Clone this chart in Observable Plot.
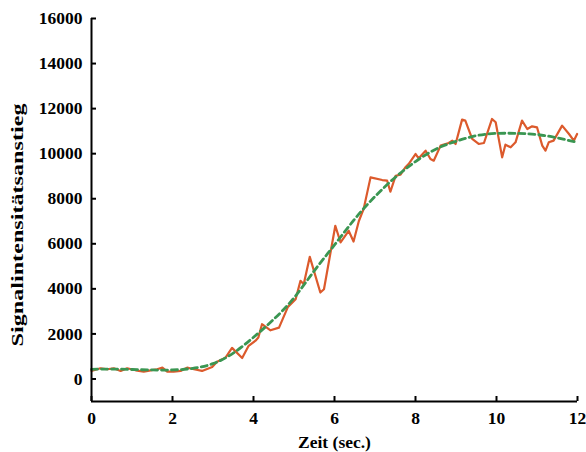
<!DOCTYPE html>
<html>
<head>
<meta charset="utf-8">
<script src="https://cdn.jsdelivr.net/npm/d3@7"></script>
<script src="https://cdn.jsdelivr.net/npm/@observablehq/plot@0.6"></script>
<style>
  html, body { margin: 0; padding: 0; background: #fff; }
</style>
</head>
<body>
<div id="chart"></div>
<script>
// Measured signal (orange line)
const measuredTime = [0.00, 0.22, 0.39, 0.55, 0.72, 0.88, 1.09, 1.29, 1.46, 1.62, 1.75, 1.87, 2.03, 2.20, 2.36, 2.53, 2.73, 2.98, 3.10, 3.23, 3.31, 3.47, 3.72, 3.88, 4.05, 4.12, 4.21, 4.42, 4.63, 4.85, 5.04, 5.16, 5.24, 5.39, 5.65, 5.74, 6.02, 6.15, 6.35, 6.47, 6.60, 6.72, 6.89, 7.18, 7.30, 7.38, 7.51, 7.63, 7.75, 7.83, 8.00, 8.08, 8.25, 8.37, 8.45, 8.62, 8.74, 8.82, 8.91, 8.99, 9.15, 9.23, 9.40, 9.56, 9.69, 9.89, 9.98, 10.14, 10.22, 10.35, 10.47, 10.63, 10.76, 10.88, 11.00, 11.13, 11.21, 11.29, 11.41, 11.62, 11.79, 11.91, 11.99];
const measuredValue = [360, 474, 430, 474, 356, 474, 385, 326, 385, 430, 504, 326, 326, 356, 504, 430, 356, 533, 760, 870, 950, 1380, 930, 1470, 1700, 1840, 2430, 2160, 2280, 3200, 3541, 4356, 4207, 5422, 3837, 3985, 6800, 6059, 6578, 6100, 7000, 7550, 8948, 8830, 8800, 8311, 9022, 9067, 9393, 9541, 9985, 9793, 10133, 9763, 9689, 10356, 10430, 10474, 10578, 10430, 11511, 11467, 10652, 10430, 10474, 11541, 11393, 9837, 10400, 10281, 10504, 11467, 11096, 11215, 11170, 10356, 10133, 10504, 10578, 11244, 10874, 10578, 10874];

// Fitted curve (green dashed)
const fitTime = [0, 0.5, 1, 1.5, 2, 2.5, 3, 3.5, 4, 4.5, 5, 5.5, 6, 6.5, 7, 7.5, 8, 8.5, 9, 9.5, 10, 10.5, 11, 11.5, 12];
const fitValue = [430, 440, 420, 400, 400, 470, 680, 1150, 1850, 2650, 3600, 4800, 5950, 7100, 8100, 8950, 9650, 10200, 10550, 10800, 10900, 10900, 10850, 10700, 10500];

// Axis ticks and labels
const xTicks = [0, 2, 4, 6, 8, 10, 12];
const yTicks = [0, 2000, 4000, 6000, 8000, 10000, 12000, 14000, 16000];
const xLabel = "Zeit (sec.)";
const yLabel = "Signalintensitätsanstieg";

const measured = measuredTime.map((t, i) => ({t, v: measuredValue[i]}));
const fit = fitTime.map((t, i) => ({t, v: fitValue[i]}));

const svg = Plot.plot({
  width: 586,
  height: 452,
  marginLeft: 91,
  marginRight: 9,
  marginTop: 18,
  marginBottom: 51,
  style: {
    fontFamily: "'Liberation Serif', 'Times New Roman', serif",
    fontWeight: "bold",
    fontSize: "17.5px",
    color: "black",
    background: "white",
    overflow: "visible"
  },
  x: {domain: [0, 12]},
  y: {domain: [-1000, 16000]},
  marks: [
    Plot.lineY(measured, {x: "t", y: "v", stroke: "#dc5a2c", strokeWidth: 2.2}),
    Plot.lineY(fit, {x: "t", y: "v", stroke: "#3a9652", strokeWidth: 2.8, strokeDasharray: "6,4", curve: "natural"}),
    Plot.ruleX([0], {stroke: "black", strokeWidth: 2}),
    Plot.ruleY([-1000], {stroke: "black", strokeWidth: 2}),
    Plot.axisY({ticks: yTicks, tickSize: -5, tickPadding: 14, tickFormat: d => String(d), strokeWidth: 2, label: null}),
    Plot.axisX({ticks: xTicks, tickSize: -5, tickPadding: 15, tickFormat: d => String(d), strokeWidth: 2, label: xLabel, labelAnchor: "center", labelOffset: 46, labelArrow: "none"}),
    Plot.text([yLabel], {text: d => d, frameAnchor: "left", rotate: -90, dx: -81, dy: 15, textAnchor: "middle", lineAnchor: "top", fontSize: 17, fontWeight: "bold"})
  ]
});

d3.select(svg).selectAll("text").each(function() {
  if (this.textContent === yLabel) {
    this.setAttribute("textLength", 243);
    this.setAttribute("lengthAdjust", "spacingAndGlyphs");
  }
});

document.getElementById("chart").appendChild(svg);
</script>
</body>
</html>
